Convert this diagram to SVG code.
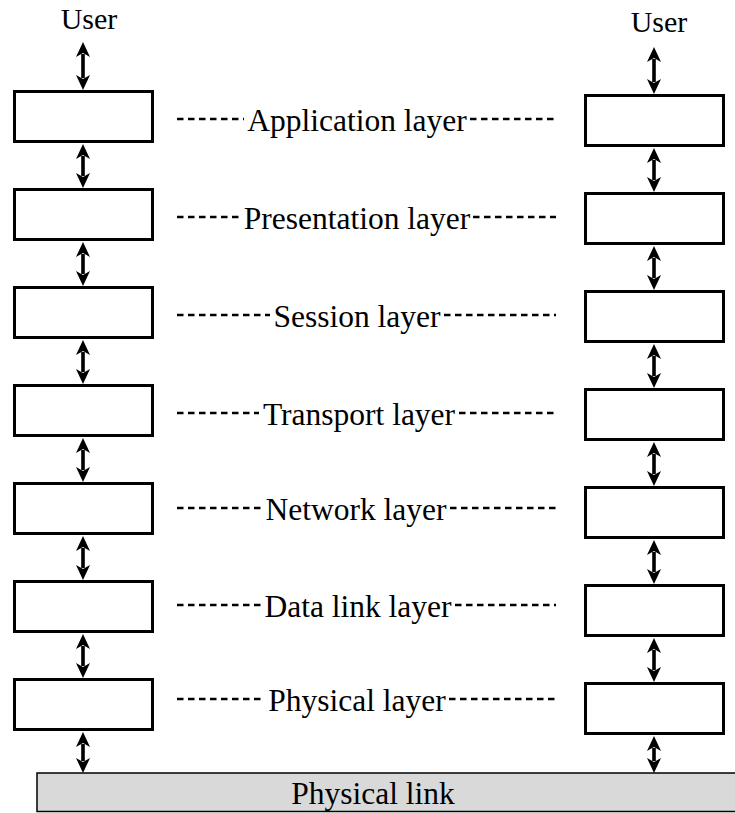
<svg xmlns="http://www.w3.org/2000/svg" width="735" height="813" viewBox="0 0 735 813">
<defs>
<style>
.box{fill:#fff;stroke:#000;stroke-width:3}
.lbl{font-family:"Liberation Serif","Times New Roman",serif;font-size:31.5px;fill:#000;text-anchor:middle}
.usr{font-family:"Liberation Serif","Times New Roman",serif;font-size:30px;fill:#000;text-anchor:middle}
.dash{stroke:#000;stroke-width:2.6;stroke-dasharray:6.5 4.5;fill:none}
.arr{stroke:#000;stroke-width:3.6;fill:none;marker-start:url(#ah);marker-end:url(#ah)}
.link{fill:#d9d9d9;stroke:#000;stroke-width:1.5}
</style>
<marker id="ah" viewBox="0 0 15 14" refX="3" refY="7" markerWidth="15" markerHeight="14" markerUnits="userSpaceOnUse" orient="auto-start-reverse">
<path d="M0,0 L15,7 L0,14 L4,7 Z" fill="#000"/>
</marker>
</defs>
<rect width="735" height="813" fill="#fff"/>

<g id="user-left"><text class="usr" x="89" y="29">User</text></g>
<g id="user-right"><text class="usr" x="659" y="32">User</text></g>

<g id="left-stack">
<rect id="l1" class="box" x="14.5" y="91.5" width="138" height="50"/>
<rect id="l2" class="box" x="14.5" y="189.5" width="138" height="50"/>
<rect id="l3" class="box" x="14.5" y="287.5" width="138" height="50"/>
<rect id="l4" class="box" x="14.5" y="385.5" width="138" height="50"/>
<rect id="l5" class="box" x="14.5" y="483.5" width="138" height="50"/>
<rect id="l6" class="box" x="14.5" y="581.5" width="138" height="50"/>
<rect id="l7" class="box" x="14.5" y="679.5" width="138" height="50"/>
</g>

<g id="right-stack">
<rect id="r1" class="box" x="585.5" y="95.5" width="138" height="50"/>
<rect id="r2" class="box" x="585.5" y="193.5" width="138" height="50"/>
<rect id="r3" class="box" x="585.5" y="291.5" width="138" height="50"/>
<rect id="r4" class="box" x="585.5" y="389.5" width="138" height="50"/>
<rect id="r5" class="box" x="585.5" y="487.5" width="138" height="50"/>
<rect id="r6" class="box" x="585.5" y="585.5" width="138" height="50"/>
<rect id="r7" class="box" x="585.5" y="683.5" width="138" height="50"/>
</g>

<g id="physical-link">
<rect class="link" x="37" y="773" width="710" height="38.5"/>
<text class="lbl" x="373" y="804">Physical link</text>
</g>

<g id="layer-labels">
<text class="lbl" x="357" y="131">Application layer</text>
<text class="lbl" x="357" y="229">Presentation layer</text>
<text class="lbl" x="357" y="327">Session layer</text>
<text class="lbl" x="359" y="425">Transport layer</text>
<text class="lbl" x="356" y="520">Network layer</text>
<text class="lbl" x="358" y="617">Data link layer</text>
<text class="lbl" x="357" y="711">Physical layer</text>
</g>

<g id="connectors">
<path class="dash" d="M177,119H244M470,119H556"/>
<path class="dash" d="M177,217H241M473,217H556"/>
<path class="dash" d="M177,315H270M444,315H556"/>
<path class="dash" d="M177,413H259M459,413H556"/>
<path class="dash" d="M177,508H262M450,508H556"/>
<path class="dash" d="M177,605H261M455,605H556"/>
<path class="dash" d="M177,699H265M449,699H556"/>

<line class="arr" x1="83" y1="54" x2="83" y2="78"/>
<line class="arr" x1="83" y1="156" x2="83" y2="176"/>
<line class="arr" x1="83" y1="254" x2="83" y2="274"/>
<line class="arr" x1="83" y1="352" x2="83" y2="372"/>
<line class="arr" x1="83" y1="450" x2="83" y2="470"/>
<line class="arr" x1="83" y1="548" x2="83" y2="568"/>
<line class="arr" x1="83" y1="646" x2="83" y2="666"/>
<line class="arr" x1="83" y1="744" x2="83" y2="761"/>

<line class="arr" x1="654" y1="59" x2="654" y2="82"/>
<line class="arr" x1="654" y1="160" x2="654" y2="180"/>
<line class="arr" x1="654" y1="258" x2="654" y2="278"/>
<line class="arr" x1="654" y1="356" x2="654" y2="376"/>
<line class="arr" x1="654" y1="454" x2="654" y2="474"/>
<line class="arr" x1="654" y1="552" x2="654" y2="572"/>
<line class="arr" x1="654" y1="650" x2="654" y2="670"/>
<line class="arr" x1="654" y1="748" x2="654" y2="761"/>
</g>
</svg>
